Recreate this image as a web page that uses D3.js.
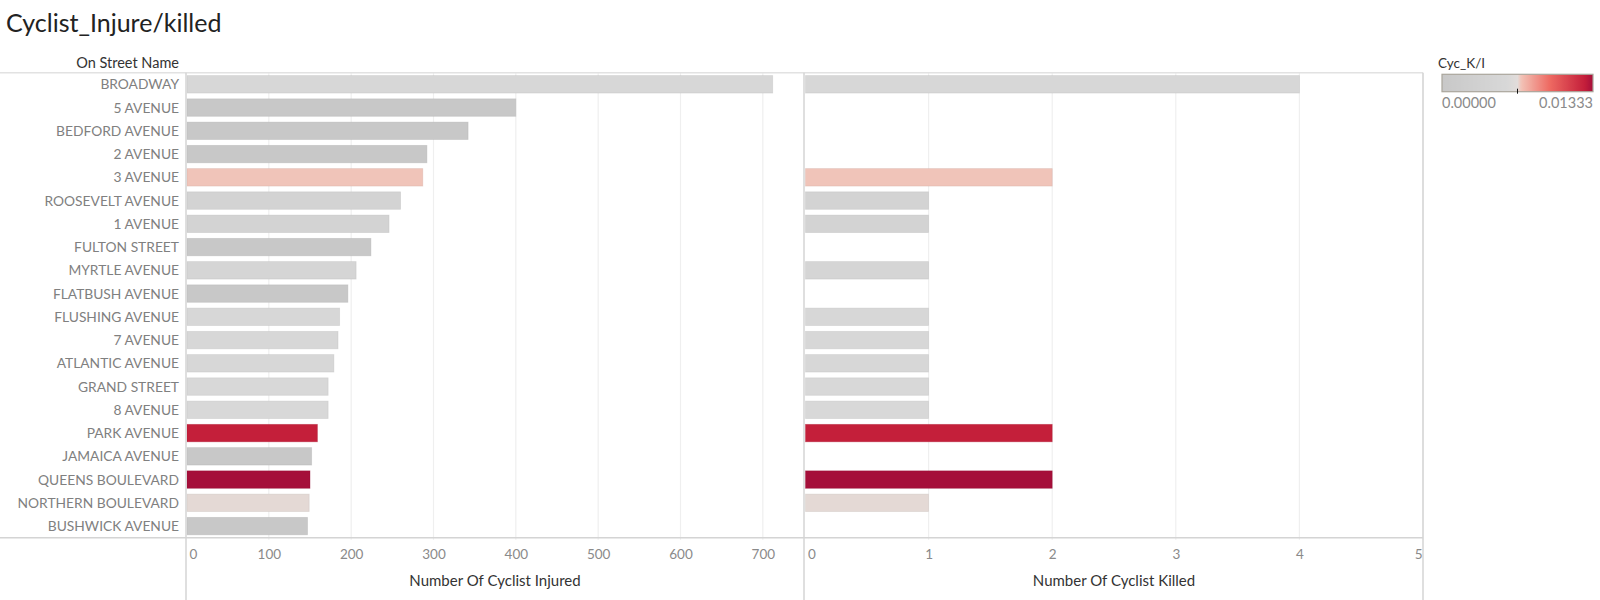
<!DOCTYPE html>
<html>
<head>
<meta charset="utf-8">
<script src="https://cdn.jsdelivr.net/npm/d3@7"></script>
<style>
    body { margin: 0; background: #fff; }
    svg { display: block; font-family: Lato, "Open Sans", sans-serif; }
</style>
</head>
<body>
<div id="example"></div>
<script>
var streets = ['BROADWAY', '5 AVENUE', 'BEDFORD AVENUE', '2 AVENUE', '3 AVENUE', 'ROOSEVELT AVENUE',
    '1 AVENUE', 'FULTON STREET', 'MYRTLE AVENUE', 'FLATBUSH AVENUE', 'FLUSHING AVENUE', '7 AVENUE',
    'ATLANTIC AVENUE', 'GRAND STREET', '8 AVENUE', 'PARK AVENUE', 'JAMAICA AVENUE', 'QUEENS BOULEVARD',
    'NORTHERN BOULEVARD', 'BUSHWICK AVENUE'];
var injured = [712, 400, 342, 292, 287, 260, 246, 224, 206, 196, 186, 184, 179, 172, 172, 159, 152, 150, 149, 147];
var killed = [4, 0, 0, 0, 2, 1, 1, 0, 1, 0, 1, 1, 1, 1, 1, 2, 0, 2, 1, 0];
var injuredTicks = [0, 100, 200, 300, 400, 500, 600, 700];
var killedTicks = [0, 1, 2, 3, 4, 5];
var ratioStops = [0, 0.0058, 0.00667, 0.0070, 0.0095, 0.0126, 0.01333];
var ratioColors = ['#c8c8c8', '#d8d8d8', '#e2dcda', '#f2c2b6', '#ee6a62', '#c41e3a', '#a50f3a'];
var legendLabels = ['0.00000', '0.01333'];

(function () {
    var width = 1600,
        height = 600,
        top = 72.7,
        bottom = 537.7;

    var rows = streets.map(function (s, i) {
        return {street: s, injured: injured[i], killed: killed[i], ratio: killed[i] / injured[i]};
    });

    var color = d3.scaleLinear().domain(ratioStops).range(ratioColors).clamp(true);

    var y = d3.scaleBand().domain(streets).range([top, bottom]).paddingInner(0.25).paddingOuter(0.125);
    var xInj = d3.scaleLinear().domain([0, 750]).range([186.5, 804]);
    var xKil = d3.scaleLinear().domain([0, 5]).range([805, 1423]);

    var svg = d3.select('#example').append('svg')
        .attr('width', width).attr('height', height);

    svg.append('text')
        .attr('x', 6).attr('y', 32)
        .style('font-size', '25px').style('fill', '#222')
        .text('Cyclist_Injure/killed');

    svg.append('text')
        .attr('x', 179).attr('y', 68)
        .attr('text-anchor', 'end')
        .style('font-size', '14.5px').style('fill', '#333')
        .text('On Street Name');

    // gridlines
    [[xInj, injuredTicks], [xKil, killedTicks]].forEach(function (p) {
        svg.append('g').selectAll('line')
            .data(p[1].slice(1))
            .enter().append('line')
            .attr('x1', function (d) { return p[0](d); })
            .attr('x2', function (d) { return p[0](d); })
            .attr('y1', top).attr('y2', bottom + 2)
            .style('stroke', '#efefef').style('stroke-width', 1.2);
    });

    // row labels
    svg.append('g').selectAll('text')
        .data(rows)
        .enter().append('text')
        .attr('x', 179)
        .attr('y', function (d) { return y(d.street) + y.bandwidth() / 2; })
        .attr('dy', '0.36em')
        .attr('text-anchor', 'end')
        .style('font-size', '13.8px').style('fill', '#808080')
        .text(function (d) { return d.street; });

    function bars(scale, key) {
        svg.append('g').selectAll('rect')
            .data(rows.filter(function (d) { return d[key] > 0; }))
            .enter().append('rect')
            .attr('x', scale(0) + 0.5)
            .attr('y', function (d) { return y(d.street); })
            .attr('width', function (d) { return scale(d[key]) - scale(0) - 0.5; })
            .attr('height', y.bandwidth())
            .style('fill', function (d) { return color(d.ratio); })
            .style('stroke', function (d) { return d3.color(color(d.ratio)).darker(0.35); })
            .style('stroke-opacity', 0.45)
            .style('stroke-width', 0.8);
    }
    bars(xInj, 'injured');
    bars(xKil, 'killed');

    // frame lines
    var frame = svg.append('g').style('stroke', '#d4d4d4').style('stroke-width', 1.5).style('fill', 'none');
    frame.append('line').attr('x1', 0).attr('x2', 1423).attr('y1', top).attr('y2', top).style('stroke', '#e2e2e2');
    frame.append('line').attr('x1', 0).attr('x2', 1423).attr('y1', bottom).attr('y2', bottom);
    [186, 804, 1423].forEach(function (x) {
        frame.append('line').attr('x1', x).attr('x2', x).attr('y1', top).attr('y2', height);
    });

    // axes
    function axis(scale, ticks, title, cx) {
        var g = svg.append('g')
            .attr('transform', 'translate(0,' + (bottom + 12) + ')')
            .call(d3.axisBottom(scale).tickValues(ticks).tickFormat(d3.format('d')).tickSize(0).tickPadding(0));
        g.select('.domain').remove();
        g.selectAll('text')
            .style('font-size', '13.5px').style('fill', '#8a8a8a')
            .style('font-family', 'Lato, "Open Sans", sans-serif')
            .attr('text-anchor', function (d, i) {
                if (i === 0) return 'start';
                if (scale(d) >= scale.range()[1] - 1) return 'end';
                return 'middle';
            })
            .attr('x', function (d, i) {
                if (i === 0) return 2.5;
                if (scale(d) >= scale.range()[1] - 1) return -1;
                return 0;
            });
        svg.append('text')
            .attr('x', cx).attr('y', 586)
            .attr('text-anchor', 'middle')
            .style('font-size', '15px').style('fill', '#333')
            .text(title);
    }
    axis(xInj, injuredTicks, 'Number Of Cyclist Injured', 495);
    axis(xKil, killedTicks, 'Number Of Cyclist Killed', 1114);

    // legend
    var lx = 1442, lw = 151, ly = 74.3, lh = 17.4;
    var grad = svg.append('defs').append('linearGradient').attr('id', 'lg');
    d3.range(0, 1.0001, 0.01).forEach(function (t) {
        grad.append('stop')
            .attr('offset', (t * 100) + '%')
            .attr('stop-color', color(t * ratioStops[ratioStops.length - 1]));
    });
    svg.append('text')
        .attr('x', 1438).attr('y', 67.5)
        .style('font-size', '13.5px').style('fill', '#333')
        .text('Cyc_K/I');
    svg.append('rect')
        .attr('x', lx).attr('y', ly).attr('width', lw).attr('height', lh)
        .style('fill', 'url(#lg)').style('stroke', '#aaa69c').style('stroke-width', 1.2);
    svg.append('line')
        .attr('x1', lx + lw / 2).attr('x2', lx + lw / 2)
        .attr('y1', ly + lh - 3).attr('y2', ly + lh + 2)
        .style('stroke', '#111').style('stroke-width', 1);
    svg.append('g').selectAll('text')
        .data(legendLabels)
        .enter().append('text')
        .attr('x', function (d, i) { return i === 0 ? lx : lx + lw; })
        .attr('y', 108)
        .attr('text-anchor', function (d, i) { return i === 0 ? 'start' : 'end'; })
        .style('font-size', '14.5px').style('fill', '#8a8a8a')
        .text(function (d) { return d; });
}());
</script>
</body>
</html>
